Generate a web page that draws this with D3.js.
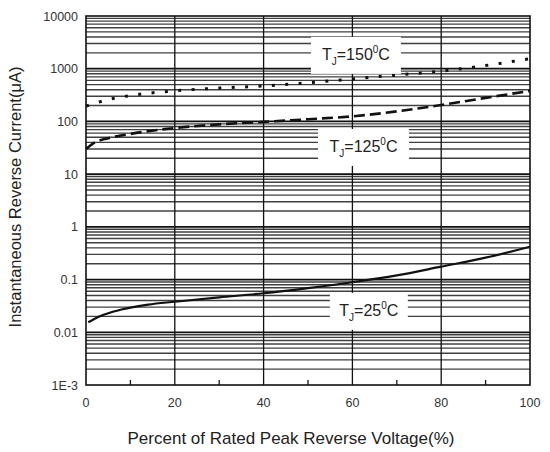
<!DOCTYPE html>
<html>
<head>
<meta charset="utf-8">
<script src="https://cdn.jsdelivr.net/npm/d3@7"></script>
<style>
  body { margin: 0; background: #fff; }
  svg { display: block; font-family: 'Liberation Sans', Arial, sans-serif; }
</style>
</head>
<body>
<div id="chart"></div>
<script>
// percent of rated peak reverse voltage
const pct150 = [0, 5, 10, 20, 30, 40, 50, 60, 70, 80, 90, 100];
const cur150 = [195, 260, 310, 380, 430, 470, 540, 640, 760, 900, 1150, 1550];

const pct125 = [0, 2, 5, 10, 20, 30, 40, 50, 60, 70, 80, 90, 100];
const cur125 = [30, 40, 48, 58, 75, 88, 98, 110, 125, 155, 205, 280, 380];

const pct25 = [0.5, 3, 8, 14, 20, 30, 40, 50, 60, 70, 80, 90, 100];
const cur25 = [0.0155, 0.020, 0.027, 0.0335, 0.038, 0.046, 0.055, 0.069, 0.089, 0.12, 0.176, 0.26, 0.42];

const xTicks = [0, 20, 40, 60, 80, 100];
const xMinorTicks = [10, 30, 50, 70, 90];
const yTicks = [1e-3, 0.01, 0.1, 1, 10, 100, 1000, 10000];
const yTickLabels = ['1E-3', '0.01', '0.1', '1', '10', '100', '1000', '10000'];

// annotations: temperature, anchor (x %, current)
const labelTemps = ['150', '125', '25'];
const labelX = [60.8, 62.5, 63.7];
const labelY = [1830, 32.8, 0.0255];
const labelW = [90, 91, 78];

const width = 550;
const height = 452;
const margin = ({ top: 16, right: 20, bottom: 67, left: 86 });

const x = d3.scaleLinear()
  .domain([0, 100])
  .range([margin.left, width - margin.right]);
const y = d3.scaleLog()
  .domain([1e-3, 1e4])
  .range([height - margin.bottom, margin.top]);

const svg = d3.select('#chart').append('svg')
  .attr('width', width)
  .attr('height', height);

// minor horizontal grid (2..9 in each decade)
const minor = [];
for (let e = -3; e < 4; e++) {
  for (let k = 2; k <= 9; k++) minor.push(k * Math.pow(10, e));
}
svg.append('g')
  .attr('stroke', '#404040')
  .attr('stroke-width', 1.4)
  .selectAll('line')
  .data(minor)
  .join('line')
  .attr('x1', x(0))
  .attr('x2', x(100))
  .attr('y1', d => y(d))
  .attr('y2', d => y(d));

// decade lines
svg.append('g')
  .attr('stroke', '#111')
  .attr('stroke-width', 1.7)
  .selectAll('line')
  .data(yTicks.slice(1, -1))
  .join('line')
  .attr('x1', x(0))
  .attr('x2', x(100))
  .attr('y1', d => y(d))
  .attr('y2', d => y(d));

// vertical grid
svg.append('g')
  .attr('stroke', '#111')
  .attr('stroke-width', 1.3)
  .selectAll('line')
  .data(xTicks.slice(1, -1))
  .join('line')
  .attr('x1', d => x(d))
  .attr('x2', d => x(d))
  .attr('y1', y(1e-3))
  .attr('y2', y(1e4));

// minor x ticks (inside)
svg.append('g')
  .attr('stroke', '#111')
  .attr('stroke-width', 1.3)
  .selectAll('line')
  .data(xMinorTicks)
  .join('line')
  .attr('x1', d => x(d))
  .attr('x2', d => x(d))
  .attr('y1', y(1e-3))
  .attr('y2', y(1e-3) - 5);

// frame
svg.append('rect')
  .attr('x', x(0))
  .attr('y', y(1e4))
  .attr('width', x(100) - x(0))
  .attr('height', y(1e-3) - y(1e4))
  .attr('fill', 'none')
  .attr('stroke', '#111')
  .attr('stroke-width', 1.6);

// curves
const line = d3.line()
  .x(d => x(d[0]))
  .y(d => y(d[1]))
  .curve(d3.curveMonotoneX);

svg.append('path')
  .datum(d3.zip(pct150, cur150))
  .attr('d', line)
  .attr('fill', 'none')
  .attr('stroke', '#111')
  .attr('stroke-width', 3)
  .attr('stroke-dasharray', '3,10.4');

svg.append('path')
  .datum(d3.zip(pct125, cur125))
  .attr('d', line)
  .attr('fill', 'none')
  .attr('stroke', '#111')
  .attr('stroke-width', 2.6)
  .attr('stroke-dasharray', '11,5');

svg.append('path')
  .datum(d3.zip(pct25, cur25))
  .attr('d', line)
  .attr('fill', 'none')
  .attr('stroke', '#111')
  .attr('stroke-width', 2.2);

// labels with white boxes
const labels = svg.append('g')
  .selectAll('g')
  .data(labelTemps.map((t, i) => ({ t, px: labelX[i], v: labelY[i], w: labelW[i] })))
  .join('g')
  .attr('transform', d => `translate(${x(d.px)},${y(d.v)})`);

labels.append('rect')
  .attr('x', d => -d.w / 2)
  .attr('y', -18)
  .attr('width', d => d.w)
  .attr('height', 37)
  .attr('fill', '#fff');

const txt = labels.append('text')
  .attr('text-anchor', 'middle')
  .attr('y', 5)
  .attr('fill', '#222')
  .attr('font-size', 16);
txt.append('tspan').text('T');
txt.append('tspan').attr('font-size', 10).attr('dy', 5).text('J');
txt.append('tspan').attr('dy', -5).text(d => '=' + d.t);
txt.append('tspan').attr('font-size', 10).attr('dy', -7).text('0');
txt.append('tspan').attr('dy', 7).text('C');

// tick labels
svg.append('g')
  .attr('font-size', 12.5)
  .attr('fill', '#333')
  .attr('text-anchor', 'middle')
  .selectAll('text')
  .data(xTicks)
  .join('text')
  .attr('x', d => x(d))
  .attr('y', y(1e-3) + 22)
  .text(d => d);

svg.append('g')
  .attr('font-size', 12.5)
  .attr('fill', '#333')
  .attr('text-anchor', 'end')
  .selectAll('text')
  .data(yTicks)
  .join('text')
  .attr('x', x(0) - 8)
  .attr('y', d => y(d) + 4.5)
  .text((d, i) => yTickLabels[i]);

// axis titles
svg.append('text')
  .attr('x', 291)
  .attr('y', 444)
  .attr('text-anchor', 'middle')
  .attr('font-size', 17)
  .attr('fill', '#222')
  .text('Percent of Rated Peak Reverse Voltage(%)');

svg.append('text')
  .attr('transform', 'translate(21,197) rotate(-90)')
  .attr('text-anchor', 'middle')
  .attr('font-size', 16.5)
  .attr('fill', '#222')
  .text('Instantaneous Reverse Current(μA)');
</script>
</body>
</html>
